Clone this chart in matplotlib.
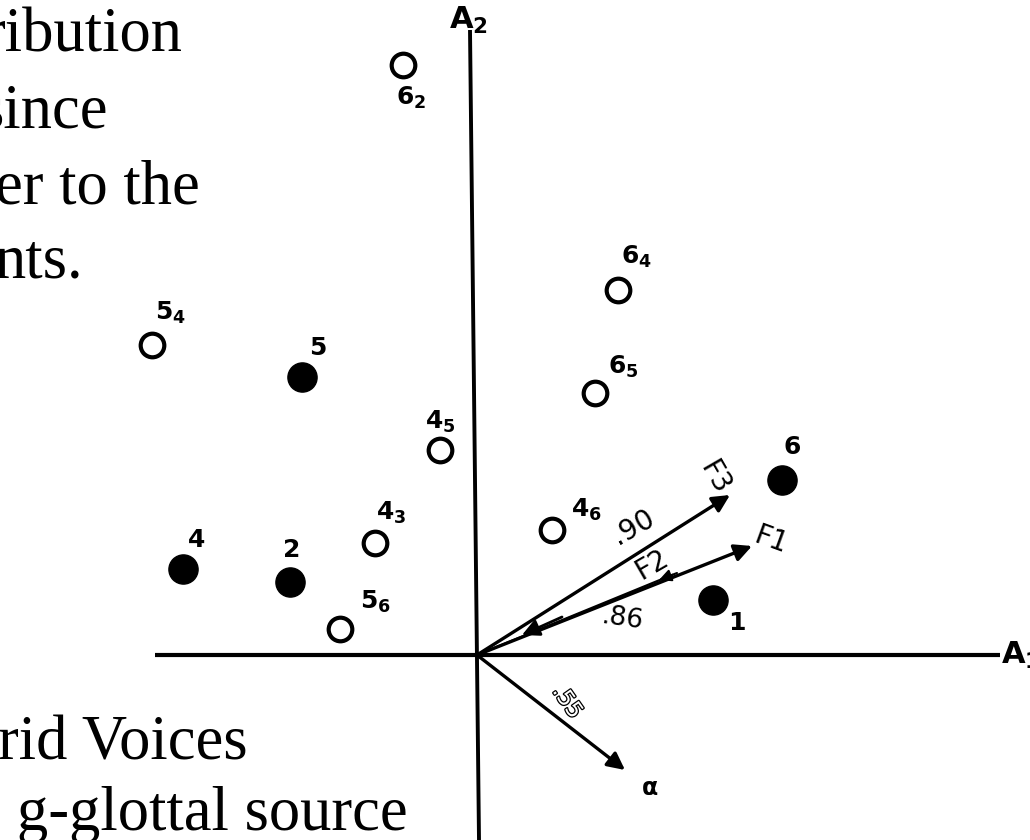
import matplotlib.pyplot as plt
import matplotlib.patheffects as pe

# point coordinates, origin at the crossing of the A1 / A2 axes
open_labels = ['6_2', '5_4', '4_5', '4_3', '5_6', '4_6', '6_4', '6_5']
open_x = [-74, -325, -37, -102, -137, 75, 141, 118]
open_y = [590, 310, 205, 112, 26, 125, 365, 262]

filled_labels = ['5', '4', '2', '6', '1']
filled_x = [-175, -294, -187, 305, 236]
filled_y = [278, 86, 73, 175, 55]

vector_names = ['F3', 'F1', 'α']
vector_x = [253, 275, 148]
vector_y = [160, 109, -115]

# fragments of page text around the figure
top_lines = ['ribution', 'since', 'er to the', 'nts.']
bottom_lines = ['rid Voices', 'g-glottal source']


def lab(s):
    if '_' in s:
        a, b = s.split('_')
        return r'$\mathbf{%s_{%s}}$' % (a, b)
    return s


def run():
    fig = plt.figure(figsize=(10.3, 8.4), dpi=100)
    ax = fig.add_axes([0, 0, 1, 1])
    ax.set_xlim(-477, 553)
    ax.set_ylim(-185, 655)
    ax.axis('off')

    # axes of the plot (the vertical one is a little skewed in the scan)
    ax.plot([-322, 523], [0, 0], color='black', lw=3, solid_capstyle='butt')
    ax.plot([-7, 2], [625, -185], color='black', lw=2.8, solid_capstyle='butt')
    ax.text(524, 0, r'$\mathbf{A_1}$', fontsize=22, va='center', ha='left')
    ax.text(-28, 635, r'$\mathbf{A_2}$', fontsize=22, va='center', ha='left')

    # points
    ax.plot(open_x, open_y, 'o', ms=17, mfc='white', mec='black', mew=3)
    ax.plot(filled_x, filled_y, 'o', ms=21, color='black')

    open_off = [(8, -33), (18, 32), (0, 28), (16, 30), (35, 27), (34, 20), (18, 33), (28, 26)]
    for s, x, y, (dx, dy) in zip(open_labels, open_x, open_y, open_off):
        ax.text(x + dx, y + dy, lab(s), fontsize=18, ha='center', va='center')
    filled_off = [(16, 29), (14, 29), (2, 32), (10, 33), (24, -23)]
    for s, x, y, (dx, dy) in zip(filled_labels, filled_x, filled_y, filled_off):
        ax.text(x + dx, y + dy, s, fontsize=18, fontweight='bold',
                ha='center', va='center')

    # factor vectors
    for x, y in zip(vector_x, vector_y):
        ax.annotate('', xy=(x, y), xytext=(0, 0),
                    arrowprops=dict(arrowstyle='-|>', lw=2.4, color='black',
                                    mutation_scale=26, shrinkA=0, shrinkB=0))
    # F2 heads between F1 and F3
    ax.plot([0, 195], [0, 80], color='black', lw=1.6)
    ax.annotate('', xy=(182, 75), xytext=(200, 82),
                arrowprops=dict(arrowstyle='-|>', lw=1.5, color='black',
                                mutation_scale=18, shrinkA=0, shrinkB=0))
    ax.annotate('', xy=(45, 20), xytext=(85, 38),
                arrowprops=dict(arrowstyle='-|>', lw=2, color='black',
                                mutation_scale=26, shrinkA=0, shrinkB=0))

    ax.text(238, 177, vector_names[0], fontsize=20, rotation=-60, ha='center', va='center')
    ax.text(294, 115, vector_names[1], fontsize=20, rotation=-20, ha='center', va='center')
    ax.text(173, -133, vector_names[2], fontsize=17, fontweight='bold', ha='center', va='center')
    ax.text(175, 90, 'F2', fontsize=20, rotation=30, ha='center', va='center')
    ax.text(156, 128, '.90', fontsize=20, rotation=30, ha='center', va='center')
    ax.text(145, 36, '.86', fontsize=19, rotation=-8, ha='center', va='center')
    ax.text(90, -47, '.55', fontsize=16, rotation=-55, ha='center', va='center',
            color='white',
            path_effects=[pe.withStroke(linewidth=1.8, foreground='black')])

    # page text
    ys = [37, 112, 189, 262]
    rights = [183, 108, 200, 83]
    for s, yy, r in zip(top_lines, ys, rights):
        fig.text(r / 1030, 1 - yy / 840, s, family='Liberation Serif',
                 fontsize=45, ha='right', va='center')
    ys = [745, 815]
    rights = [248, 408]
    for s, yy, r in zip(bottom_lines, ys, rights):
        fig.text(r / 1030, 1 - yy / 840, s, family='Liberation Serif',
                 fontsize=45, ha='right', va='center')

    return fig


def main():
    fig = run()
    fig.savefig('out.png', dpi=100)


if __name__ == '__main__':
    main()
